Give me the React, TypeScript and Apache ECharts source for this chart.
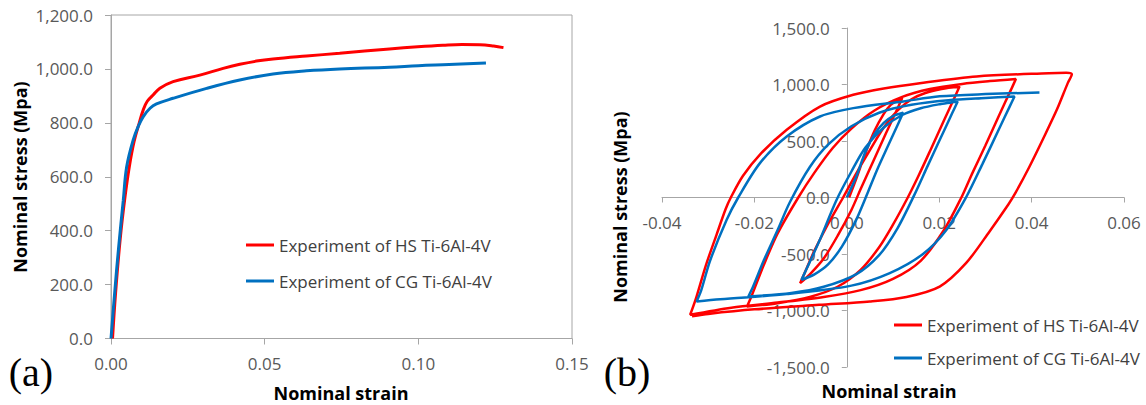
import React, { useEffect, useRef } from "react";
import * as echarts from "echarts";

// ---------- (a) monotonic tensile curves ----------
const tensileStrainHS = [0.0005, 0.0015, 0.003, 0.0045, 0.006, 0.0075, 0.0092, 0.0105, 0.0118, 0.0137, 0.0159, 0.0202, 0.0289, 0.0365, 0.0419, 0.0473, 0.0527, 0.0636, 0.0744, 0.0906, 0.0998, 0.108, 0.1142, 0.12, 0.1245, 0.1277];
const tensileStressHS = [0, 170, 370, 520, 640, 730, 800, 848, 880, 903, 928, 953, 977, 1002, 1017, 1029, 1037, 1048, 1058, 1074, 1082, 1088, 1091, 1090, 1085, 1079];
const tensileStrainCG = [0, 0.0012, 0.0025, 0.004, 0.0051, 0.0072, 0.009, 0.0105, 0.0127, 0.0148, 0.0202, 0.0311, 0.0419, 0.0527, 0.0636, 0.0744, 0.0906, 0.1, 0.11, 0.122];
const tensileStressCG = [0, 170, 340, 513, 637, 736, 790, 823, 854, 870, 891, 928, 959, 981, 993, 1000, 1006, 1012, 1016, 1022];

// ---------- (b) cyclic hysteresis loops ----------
const cyclicStrainHS = [
  0.0005, 0.002, 0.004, 0.006, 0.008, 0.0095, 0.011, 0.012,
  0.011, 0.0085, 0.006, 0.003, 0.001, -0.002, -0.005, -0.008, -0.0101,
  -0.0092, -0.007, -0.004, -0.0008, 0.002, 0.005, 0.008, 0.011, 0.014, 0.017, 0.0205, 0.0244,
  0.0235, 0.021, 0.018, 0.0155, 0.0132, 0.01, 0.007, 0.003, -0.002, -0.008, -0.015, -0.0216,
  -0.0205, -0.018, -0.015, -0.0105, -0.007, -0.003, 0.001, 0.006, 0.012, 0.018, 0.025, 0.031, 0.0366,
  0.0355, 0.033, 0.03, 0.027, 0.0248, 0.021, 0.016, 0.01, 0.003, -0.005, -0.015, -0.025, -0.0339,
  -0.0327, -0.0305, -0.0282, -0.0262, -0.0251, -0.0225, -0.0188, -0.013, -0.0058, 0.0014, 0.008, 0.0158, 0.0281, 0.0437, 0.0475, 0.0487,
  0.0478, 0.0455, 0.0425, 0.0395, 0.0365, 0.035, 0.0309, 0.0258, 0.0201, 0.0129, 0.005, -0.006, -0.02, -0.03, -0.0335,
];
const cyclicStressHS = [
  0, 160, 390, 590, 740, 820, 860, 880,
  790, 570, 345, 75, -110, -340, -540, -680, -758,
  -675, -470, -230, 0, 210, 420, 620, 770, 870, 925, 960, 982,
  900, 680, 410, 190, 0, -240, -440, -640, -790, -880, -935, -965,
  -860, -600, -320, 0, 220, 440, 610, 770, 890, 960, 1005, 1030, 1048,
  950, 730, 460, 200, 0, -290, -560, -720, -820, -880, -930, -975, -1038,
  -900, -600, -330, -100, 0, 190, 380, 599, 805, 909, 965, 1012, 1071, 1100, 1103, 1090,
  1010, 780, 520, 270, 40, -60, -300, -581, -788, -880, -920, -950, -990, -1030, -1050,
];
const cyclicStrainCG = [
  0, 0.002, 0.004, 0.006, 0.008, 0.01, 0.0122,
  0.0112, 0.009, 0.0065, 0.0045, 0.002, -0.001, -0.004, -0.007, -0.0098,
  -0.0088, -0.006, -0.0022, 0.001, 0.004, 0.008, 0.012, 0.016, 0.02, 0.024,
  0.0228, 0.02, 0.0175, 0.0147, 0.011, 0.007, 0.002, -0.005, -0.012, -0.0213,
  -0.0203, -0.018, -0.015, -0.0123, -0.008, -0.004, 0.001, 0.007, 0.014, 0.022, 0.03, 0.0363,
  0.0352, 0.033, 0.0294, 0.0258, 0.0215, 0.0165, 0.0093, 0.001, -0.013, -0.0274, -0.0325,
  -0.0315, -0.0296, -0.026, -0.0235, -0.0188, -0.013, -0.0058, 0.0014, 0.0122, 0.0201, 0.03, 0.0417,
];
const cyclicStressCG = [
  0, 180, 400, 560, 660, 720, 750,
  660, 465, 240, 40, -200, -430, -590, -680, -728,
  -640, -390, -20, 230, 440, 620, 730, 790, 825, 850,
  745, 500, 280, 30, -270, -510, -680, -790, -845, -876,
  -790, -560, -290, -40, 270, 470, 630, 750, 820, 860, 880, 894,
  800, 610, 300, 0, -290, -500, -669, -780, -855, -900, -920,
  -820, -560, -197, 0, 304, 540, 717, 791, 850, 895, 915, 929,
];

// axis ranges
const aStrainRange = [0, 0.15, 0.05];
const aStressRange = [0, 1200, 200];
const bStrainRange = [-0.04, 0.06, 0.02];
const bStressRange = [-1500, 1500, 500];

const seriesNames = ["Experiment of HS Ti-6Al-4V", "Experiment of CG Ti-6Al-4V"];
const RED = "#FF0000";
const BLUE = "#0070C0";
const FONT = "'Open Sans', 'Noto Sans', sans-serif";
const AXIS_GRAY = "#a6a6a6";
const LABEL_GRAY = "#595959";

const zip = (xs: number[], ys: number[]) => xs.map((x, i) => [x, ys[i]]);
const fmt1 = (v: number) =>
  v.toLocaleString("en-US", { minimumFractionDigits: 1, maximumFractionDigits: 1 });
const fmt2 = (v: number) => (Math.abs(v) < 1e-9 ? "0.00" : v.toFixed(2));

const gridA = { left: 111, top: 15, width: 461, height: 323.5 };
const gridB = { left: 662, top: 28, width: 462, height: 339 };

export default function App() {
  const ref = useRef<HTMLDivElement>(null);
  useEffect(() => {
    if (!ref.current) return;
    const chart = echarts.init(ref.current, undefined, { renderer: "svg" });
    const axisLabel = (fmt: (v: number) => string, margin: number) => ({
      formatter: fmt,
      color: LABEL_GRAY,
      fontSize: 17,
      fontFamily: FONT,
      margin,
    });
    const axisLine = { show: true, onZero: false, lineStyle: { color: AXIS_GRAY, width: 1 } };
    const axisTick = { show: true, length: 5, lineStyle: { color: AXIS_GRAY } };
    // place panel (b) axes through the origin
    const bXOffset = -gridB.height * (0 - bStressRange[0]) / (bStressRange[1] - bStressRange[0]);
    const bYOffset = -gridB.width * (0 - bStrainRange[0]) / (bStrainRange[1] - bStrainRange[0]);
    const legendCommon = {
      orient: "vertical" as const,
      icon: "rect",
      itemWidth: 28,
      itemHeight: 3,
      padding: 0,
      selectedMode: false,
      data: seriesNames,
      textStyle: { fontSize: 17, color: "#404040", fontFamily: FONT, lineHeight: 18 },
    };
    const titleStyle = (text: string) => ({
      text,
      fontSize: 18,
      fontWeight: "bold",
      fontFamily: FONT,
      fill: "#000",
      textAlign: "center",
      textVerticalAlign: "middle",
    });
    chart.setOption({
      animation: false,
      backgroundColor: "#fff",
      grid: [
        { ...gridA, show: true, borderColor: AXIS_GRAY, borderWidth: 1 },
        { ...gridB },
      ],
      xAxis: [
        {
          type: "value", gridIndex: 0, min: aStrainRange[0], max: aStrainRange[1], interval: aStrainRange[2],
          axisLine, axisTick: { ...axisTick, length: 6 }, splitLine: { show: false },
          axisLabel: axisLabel(fmt2, 16),
        },
        {
          type: "value", gridIndex: 1, min: bStrainRange[0], max: bStrainRange[1], interval: bStrainRange[2],
          position: "bottom", offset: bXOffset,
          axisLine, axisTick, splitLine: { show: false },
          axisLabel: axisLabel(fmt2, 16),
        },
      ],
      yAxis: [
        {
          type: "value", gridIndex: 0, min: aStressRange[0], max: aStressRange[1], interval: aStressRange[2],
          axisLine, axisTick: { ...axisTick, length: 6 }, splitLine: { show: false },
          axisLabel: axisLabel(fmt1, 18),
        },
        {
          type: "value", gridIndex: 1, min: bStressRange[0], max: bStressRange[1], interval: bStressRange[2],
          position: "left", offset: bYOffset,
          axisLine, axisTick, splitLine: { show: false },
          axisLabel: axisLabel(fmt1, 17),
        },
      ],
      legend: [
        { ...legendCommon, left: 246, top: 236, itemGap: 18 },
        { ...legendCommon, left: 894, top: 316, itemGap: 15 },
      ],
      series: [
        {
          name: seriesNames[0], type: "line", xAxisIndex: 0, yAxisIndex: 0,
          data: zip(tensileStrainHS, tensileStressHS), showSymbol: false, smooth: 0.4,
          lineStyle: { color: RED, width: 3 }, itemStyle: { color: RED },
        },
        {
          name: seriesNames[1], type: "line", xAxisIndex: 0, yAxisIndex: 0,
          data: zip(tensileStrainCG, tensileStressCG), showSymbol: false, smooth: 0.4,
          lineStyle: { color: BLUE, width: 3 }, itemStyle: { color: BLUE },
        },
        {
          name: seriesNames[0], type: "line", xAxisIndex: 1, yAxisIndex: 1,
          data: zip(cyclicStrainHS, cyclicStressHS), showSymbol: false, smooth: 0.3,
          lineStyle: { color: RED, width: 2.5 }, itemStyle: { color: RED },
        },
        {
          name: seriesNames[1], type: "line", xAxisIndex: 1, yAxisIndex: 1,
          data: zip(cyclicStrainCG, cyclicStressCG), showSymbol: false, smooth: 0.3,
          lineStyle: { color: BLUE, width: 2.5 }, itemStyle: { color: BLUE },
        },
      ],
      graphic: [
        { type: "text", x: 20, y: 177, rotation: Math.PI / 2, style: titleStyle("Nominal stress (Mpa)") },
        { type: "text", x: 341, y: 393, style: titleStyle("Nominal strain") },
        { type: "text", x: 620, y: 207, rotation: Math.PI / 2, style: titleStyle("Nominal stress (Mpa)") },
        { type: "text", x: 889, y: 391, style: titleStyle("Nominal strain") },
        {
          type: "text", x: 31, y: 372,
          style: { text: "(a)", fontSize: 40, fontFamily: "'Liberation Serif', serif", fill: "#000", textAlign: "center", textVerticalAlign: "middle" },
        },
        {
          type: "text", x: 627, y: 372,
          style: { text: "(b)", fontSize: 40, fontFamily: "'Liberation Serif', serif", fill: "#000", textAlign: "center", textVerticalAlign: "middle" },
        },
      ],
    });
    return () => chart.dispose();
  }, []);
  return (
    <div
      ref={ref}
      style={{ position: "absolute", left: 0, top: 0, width: 1146, height: 405 }}
    />
  );
}
